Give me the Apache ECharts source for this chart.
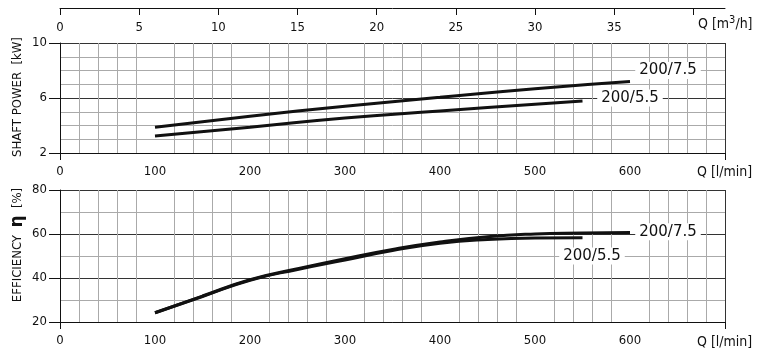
<!DOCTYPE html>
<html>
<head>
<meta charset="utf-8">
<script src="https://cdn.jsdelivr.net/npm/echarts@6/dist/echarts.min.js"></script>
<style>
  html, body { margin: 0; padding: 0; background: #fff; }
  #chart { width: 761px; height: 354px; }
</style>
</head>
<body>
<div id="chart"></div>
<script>
// flow in l/min, power in kW, efficiency in %
const flowLabels = [0, 100, 200, 300, 400, 500, 600]
const m3hLabels = [0, 5, 10, 15, 20, 25, 30, 35]
const m3hTicks = [0, 5, 10, 15, 20, 25, 30, 35, 40]

const powerFlow75 = [100, 200, 300, 400, 500, 600]
const power75 = [3.87, 4.67, 5.40, 6.05, 6.68, 7.20]
const powerFlow55 = [100, 200, 300, 400, 500, 550]
const power55 = [3.24, 3.88, 4.55, 5.05, 5.55, 5.78]

const effFlow75 = [100, 150, 200, 250, 300, 350, 400, 450, 500, 550, 600]
const eff75 = [24.2, 31.8, 39.2, 44.2, 48.8, 53.0, 56.4, 58.8, 60.0, 60.4, 60.7]
const effFlow55 = [100, 150, 200, 250, 300, 350, 400, 450, 500, 550]
const eff55 = [24.2, 31.6, 39.0, 43.9, 48.2, 52.5, 55.8, 57.5, 58.2, 58.3]

const LPM_PER_M3H = 1000 / 60
const FLOW_MAX = 700

const FONT = '"Liberation Sans Narrow", "DejaVu Sans Condensed", sans-serif'
const LABEL_FONT = '"DejaVu Sans", sans-serif'
const INK = '#111'
const MAJOR = '#333'
const MINOR = '#aaa'

const pairs = (xs, ys) => xs.map((x, i) => [x, ys[i]])

function flowAxis(gridIndex) {
  return {
    type: 'value',
    gridIndex,
    min: 0,
    max: FLOW_MAX,
    interval: 100,
    axisLine: { show: true, onZero: false, lineStyle: { color: INK, width: 1 } },
    axisTick: { show: true, customValues: [0, FLOW_MAX], length: 7, lineStyle: { color: INK } },
    axisLabel: { customValues: flowLabels, margin: 12, color: INK, fontSize: 13, fontFamily: FONT },
    splitLine: { show: true, lineStyle: { color: MAJOR, width: 1 } },
    minorTick: { show: false, splitNumber: 5 },
    minorSplitLine: { show: true, lineStyle: { color: MINOR, width: 1 } },
  }
}

function valueAxis(gridIndex, min, max, interval, minorSplit) {
  return {
    type: 'value',
    gridIndex,
    min,
    max,
    interval,
    axisLine: { show: true, lineStyle: { color: INK, width: 1 } },
    axisTick: { show: true, length: 11, lineStyle: { color: INK } },
    axisLabel: { margin: 13, color: INK, fontSize: 13, fontFamily: FONT },
    splitLine: { show: true, lineStyle: { color: MAJOR, width: 1 } },
    minorTick: { show: false, splitNumber: minorSplit },
    minorSplitLine: { show: true, lineStyle: { color: MINOR, width: 1 } },
  }
}

function curveLabel(text, coord) {
  return {
    symbol: 'rect',
    symbolSize: 1,
    silent: true,
    itemStyle: { color: 'rgba(0,0,0,0)' },
    label: {
      show: true,
      position: 'inside',
      formatter: '{b}',
      color: INK,
      fontSize: 15,
      fontFamily: LABEL_FONT,
      backgroundColor: '#fff',
      padding: [1, 4],
    },
    data: [{ name: text, coord }],
  }
}

function curve(x, y, xi, yi, label) {
  return {
    type: 'line',
    xAxisIndex: xi,
    yAxisIndex: yi,
    data: pairs(x, y),
    smooth: 0.5,
    showSymbol: false,
    lineStyle: { color: INK, width: 3 },
    markPoint: curveLabel(label[0], label[1]),
  }
}

const chart = echarts.init(document.getElementById('chart'))
chart.setOption({
  animation: false,
  grid: [
    { left: 60, right: 36, top: 43, height: 110 },
    { left: 60, right: 36, top: 190, height: 132 },
  ],
  xAxis: [
    flowAxis(0),
    flowAxis(1),
    {
      type: 'value',
      gridIndex: 0,
      position: 'top',
      offset: 35,
      min: 0,
      max: FLOW_MAX / LPM_PER_M3H,
      interval: 5,
      axisLine: { show: true, lineStyle: { color: INK, width: 1 } },
      axisTick: { show: true, inside: true, length: 7, customValues: m3hTicks, lineStyle: { color: INK } },
      axisLabel: { inside: true, margin: 13, customValues: m3hLabels, color: INK, fontSize: 13, fontFamily: FONT },
      splitLine: { show: false },
    },
  ],
  yAxis: [
    valueAxis(0, 2, 10, 4, 4),
    valueAxis(1, 20, 80, 20, 2),
  ],
  series: [
    curve(powerFlow75, power75, 0, 0, ['200/7.5', [640, 8]]),
    curve(powerFlow55, power55, 0, 0, ['200/5.5', [600, 6]]),
    curve(effFlow75, eff75, 1, 1, ['200/7.5', [640, 61]]),
    curve(effFlow55, eff55, 1, 1, ['200/5.5', [560, 50]]),
  ],
  graphic: [
    {
      type: 'text', x: 18, y: 97, rotation: Math.PI / 2,
      style: { text: 'SHAFT POWER  [kW]', fill: INK, fontSize: 13, fontFamily: FONT, align: 'center', verticalAlign: 'middle' },
    },
    {
      type: 'text', x: 18, y: 245, rotation: Math.PI / 2,
      style: {
        text: 'EFFICIENCY  {eta|η}  [%]', fill: INK, fontSize: 13, fontFamily: FONT, align: 'center', verticalAlign: 'middle',
        rich: { eta: { fontSize: 17, fontWeight: 'bold', fontFamily: LABEL_FONT, fill: INK } },
      },
    },
    {
      type: 'text', x: 697, y: 172,
      style: { text: 'Q [l/min]', fill: INK, fontSize: 14, fontFamily: FONT, align: 'left', verticalAlign: 'middle' },
    },
    {
      type: 'text', x: 697, y: 342,
      style: { text: 'Q [l/min]', fill: INK, fontSize: 14, fontFamily: FONT, align: 'left', verticalAlign: 'middle' },
    },
    {
      type: 'text', x: 698, y: 24,
      style: {
        text: 'Q [m{sup|3}/h]', fill: INK, fontSize: 14, fontFamily: FONT, align: 'left', verticalAlign: 'middle',
        rich: { sup: { fontSize: 11, fontFamily: FONT, fill: INK, padding: [0, 0, 8, 0] } },
      },
    },
  ],
})
</script>
</body>
</html>
